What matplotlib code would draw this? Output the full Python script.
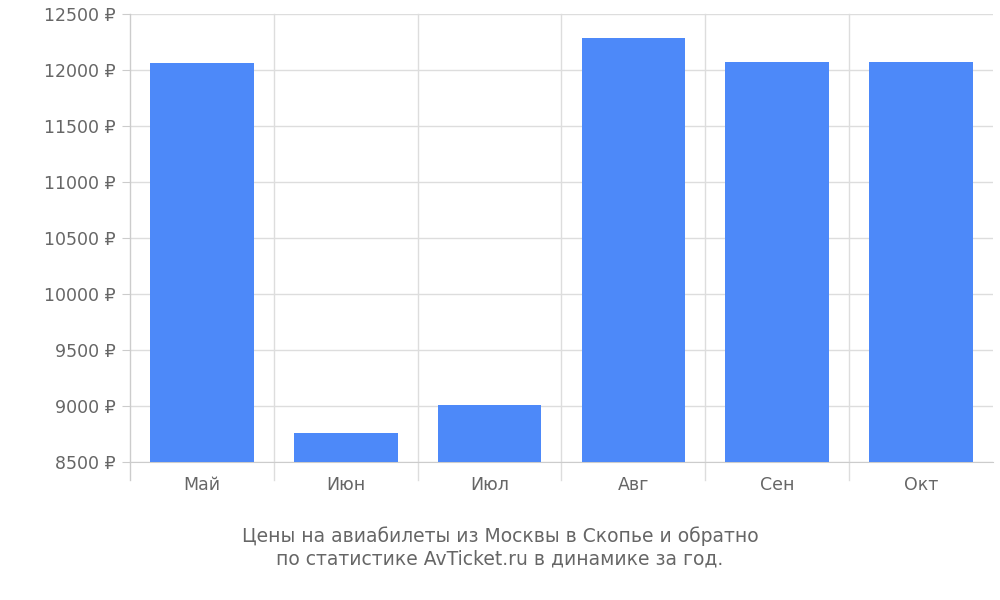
import matplotlib.pyplot as plt
import numpy as np

months = ['Май', 'Июн', 'Июл', 'Авг', 'Сен', 'Окт']
prices = [12060, 8760, 9010, 12280, 12070, 12070]
yticks = list(range(8500, 12501, 500))

plt.rcParams['font.family'] = ['DejaVu Sans']
fig = plt.figure(figsize=(10, 6), dpi=100)
ax = fig.add_axes([0.13, 0.23, 0.863, 0.747])

x = np.arange(len(months))
ax.bar(x, prices, width=0.72, color='#4d89f9', zorder=3)
ax.set_xlim(-0.5, len(months) - 0.5)
ax.set_ylim(8500, 12500)
ax.set_yticks(yticks)
ax.set_yticklabels([f'{v} ₽' for v in yticks])
ax.set_xticks(x)
ax.set_xticklabels(months)
ax.tick_params(axis='both', colors='#666666', labelsize=12.5, length=0)
ax.tick_params(axis='y', length=6, color='#cccccc', pad=4)
ax.tick_params(axis='x', pad=10)
ax.grid(axis='y', color='#dddddd', lw=1, zorder=0)
for b in np.arange(0.5, len(months) - 0.5):
    ax.plot([b, b], [8500 - 160, 12500], color='#dddddd', lw=1, clip_on=False, zorder=1)
ax.plot([-0.5, -0.5], [8500 - 160, 12500], color='#cccccc', lw=1, clip_on=False, zorder=2)
for s in ['top', 'right', 'left']:
    ax.spines[s].set_visible(False)
ax.spines['bottom'].set_color('#cccccc')

fig.text(0.5, 0.088, 'Цены на авиабилеты из Москвы в Скопье и обратно\nпо статистике AvTicket.ru в динамике за год.',
         ha='center', va='center', color='#666666', fontsize=13.5, linespacing=1.2)
fig.savefig('out.png')
